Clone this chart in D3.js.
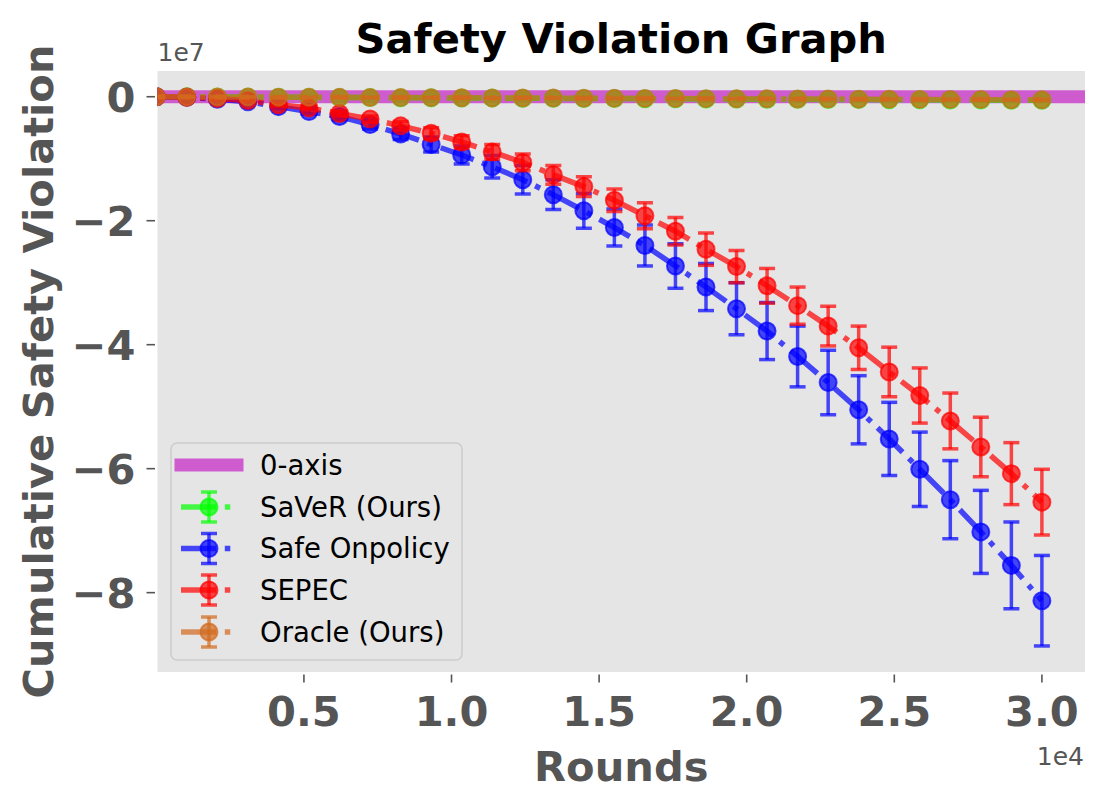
<!DOCTYPE html>
<html>
<head>
<meta charset="utf-8">
<script src="https://cdn.jsdelivr.net/npm/d3@7"></script>
<style>
  html, body { margin: 0; padding: 0; background: #ffffff; }
  svg { display: block; }
  text { font-family: "DejaVu Sans", sans-serif; }
</style>
</head>
<body>
<svg id="chart" width="1106" height="808"></svg>
<script>
// ---------------- data (y values in units of 1e7) ----------------
const rounds = [0, 1034, 2069, 3103, 4138, 5172, 6207, 7241, 8276, 9310,
  10345, 11379, 12414, 13448, 14483, 15517, 16552, 17586, 18621, 19655,
  20690, 21724, 22759, 23793, 24828, 25862, 26897, 27931, 28966, 30000];

const saverMean = [0, -0.002, -0.004, -0.006, -0.008, -0.010, -0.012, -0.014, -0.016, -0.018,
  -0.020, -0.022, -0.024, -0.026, -0.028, -0.030, -0.032, -0.034, -0.036, -0.038,
  -0.040, -0.042, -0.044, -0.046, -0.048, -0.050, -0.052, -0.054, -0.056, -0.058];
const saverErr = [0, 0.001, 0.001, 0.002, 0.002, 0.002, 0.003, 0.003, 0.003, 0.004,
  0.004, 0.004, 0.005, 0.005, 0.005, 0.006, 0.006, 0.006, 0.007, 0.007,
  0.007, 0.008, 0.008, 0.008, 0.009, 0.009, 0.009, 0.010, 0.010, 0.010];

const onpolicyMean = [0, -0.01, -0.04, -0.08, -0.16, -0.24, -0.32, -0.45, -0.60, -0.77,
  -0.94, -1.13, -1.34, -1.58, -1.84, -2.11, -2.40, -2.73, -3.07, -3.42,
  -3.78, -4.19, -4.61, -5.05, -5.52, -6.01, -6.50, -7.02, -7.56, -8.13];
const onpolicyErr = [0, 0.005, 0.01, 0.02, 0.03, 0.04, 0.05, 0.07, 0.09, 0.12,
  0.145, 0.18, 0.23, 0.24, 0.28, 0.30, 0.33, 0.36, 0.38, 0.42,
  0.46, 0.49, 0.52, 0.55, 0.59, 0.60, 0.63, 0.67, 0.70, 0.73];

const sepecMean = [0, -0.01, -0.03, -0.06, -0.13, -0.18, -0.27, -0.36, -0.47, -0.59,
  -0.73, -0.89, -1.06, -1.26, -1.45, -1.67, -1.92, -2.17, -2.46, -2.74,
  -3.05, -3.37, -3.70, -4.05, -4.44, -4.82, -5.23, -5.65, -6.08, -6.54];
const sepecErr = [0, 0.005, 0.01, 0.015, 0.02, 0.03, 0.04, 0.05, 0.07, 0.09,
  0.10, 0.12, 0.135, 0.15, 0.16, 0.18, 0.21, 0.22, 0.26, 0.26,
  0.28, 0.30, 0.32, 0.35, 0.40, 0.445, 0.45, 0.48, 0.50, 0.53];

const oracleMean = [0, -0.0017, -0.0034, -0.0051, -0.0068, -0.0085, -0.010, -0.012, -0.014, -0.015,
  -0.017, -0.019, -0.020, -0.022, -0.024, -0.026, -0.027, -0.029, -0.031, -0.032,
  -0.034, -0.036, -0.037, -0.039, -0.041, -0.043, -0.044, -0.046, -0.048, -0.050];
const oracleErr = [0, 0.001, 0.001, 0.001, 0.002, 0.002, 0.002, 0.003, 0.003, 0.003,
  0.003, 0.004, 0.004, 0.004, 0.005, 0.005, 0.005, 0.005, 0.006, 0.006,
  0.006, 0.007, 0.007, 0.007, 0.007, 0.008, 0.008, 0.008, 0.009, 0.009];

const seriesNames = ["SaVeR (Ours)", "Safe Onpolicy", "SEPEC", "Oracle (Ours)"];
const seriesColors = ["#00ff00", "#0000ff", "#ff0000", "#d2691e"];
const seriesMeans = [saverMean, onpolicyMean, sepecMean, oracleMean];
const seriesErrs = [saverErr, onpolicyErr, sepecErr, oracleErr];

const xTicks = [5000, 10000, 15000, 20000, 25000, 30000];
const xTickLabels = ["0.5", "1.0", "1.5", "2.0", "2.5", "3.0"];
const yTicks = [0, -2, -4, -6, -8];
const yTickLabels = ["0", "\u22122", "\u22124", "\u22126", "\u22128"];

const zeroLineLabel = "0-axis";
const zeroLineColor = "#bf00bf";

// ---------------- layout ----------------
const svg = d3.select("#chart");
const L = 157.5, R = 1085, T = 71, B = 672;
const x = d3.scaleLinear().domain([40, 31460]).range([L, R]);
const y = d3.scaleLinear().domain([-9.28, 0.415]).range([B, T]);

const ALPHA = 0.7;
const LW = 5.5;
const DASH = "35,8.8,5.5,8.8";
const MR = 8.5;
const BIG = 41.6;
const LEG = 27.5;

// background
svg.append("rect").attr("x", L).attr("y", T).attr("width", R - L).attr("height", B - T).attr("fill", "#e5e5e5");

svg.append("defs").append("clipPath").attr("id", "clip")
  .append("rect").attr("x", L).attr("y", T).attr("width", R - L).attr("height", B - T);

const plot = svg.append("g").attr("clip-path", "url(#clip)");

// 0-axis line
plot.append("line")
  .attr("x1", L - 10).attr("x2", R + 10)
  .attr("y1", y(0)).attr("y2", y(0))
  .attr("stroke", zeroLineColor).attr("stroke-opacity", 0.6).attr("stroke-width", 13);

// series
seriesNames.forEach((name, si) => {
  const col = seriesColors[si];
  const mean = seriesMeans[si];
  const err = seriesErrs[si];
  const g = plot.append("g");
  const pts = rounds.map((r, i) => ({ r, m: mean[i], e: err[i] }));

  // error bars
  g.selectAll("line.bar").data(pts).enter().append("line")
    .attr("x1", d => x(d.r)).attr("x2", d => x(d.r))
    .attr("y1", d => y(d.m - d.e)).attr("y2", d => y(d.m + d.e))
    .attr("stroke", col).attr("stroke-opacity", ALPHA).attr("stroke-width", 3.5);
  ["lo", "hi"].forEach(k => {
    g.selectAll("line.cap" + k).data(pts).enter().append("line")
      .attr("x1", d => x(d.r) - 8).attr("x2", d => x(d.r) + 8)
      .attr("y1", d => y(k === "lo" ? d.m - d.e : d.m + d.e))
      .attr("y2", d => y(k === "lo" ? d.m - d.e : d.m + d.e))
      .attr("stroke", col).attr("stroke-opacity", ALPHA).attr("stroke-width", 3.5);
  });

  // line
  g.append("path").datum(pts)
    .attr("d", d3.line().x(d => x(d.r)).y(d => y(d.m)))
    .attr("fill", "none").attr("stroke", col).attr("stroke-opacity", ALPHA)
    .attr("stroke-width", LW).attr("stroke-dasharray", DASH);

  // markers
  g.selectAll("circle").data(pts).enter().append("circle")
    .attr("cx", d => x(d.r)).attr("cy", d => y(d.m)).attr("r", MR)
    .attr("fill", col).attr("fill-opacity", ALPHA)
    .attr("stroke", col).attr("stroke-opacity", ALPHA).attr("stroke-width", 2);
});

// ---------------- axes ----------------
const tickColor = "#555555";
const axG = svg.append("g");
xTicks.forEach((t, i) => {
  axG.append("line").attr("x1", x(t)).attr("x2", x(t)).attr("y1", B + 2.5).attr("y2", B + 10.5)
    .attr("stroke", tickColor).attr("stroke-width", 1.6);
  axG.append("text").attr("x", x(t)).attr("y", 725.5).attr("text-anchor", "middle")
    .attr("font-size", BIG).attr("font-weight", "bold").attr("fill", tickColor).text(xTickLabels[i]);
});
yTicks.forEach((t, i) => {
  axG.append("line").attr("x1", L - 2.5).attr("x2", L - 11).attr("y1", y(t)).attr("y2", y(t))
    .attr("stroke", tickColor).attr("stroke-width", 1.6);
  axG.append("text").attr("x", 135.5).attr("y", y(t)).attr("dy", "0.365em").attr("text-anchor", "end")
    .attr("font-size", BIG).attr("font-weight", "bold").attr("fill", tickColor).text(yTickLabels[i]);
});

// offset texts
svg.append("text").attr("x", L).attr("y", 61).attr("font-size", 25).attr("fill", tickColor).text("1e7");
svg.append("text").attr("x", 1084).attr("y", 765).attr("text-anchor", "end").attr("font-size", 25).attr("fill", tickColor).text("1e4");

// axis labels
svg.append("text").attr("x", (L + R) / 2).attr("y", 780.5).attr("text-anchor", "middle")
  .attr("font-size", BIG).attr("font-weight", "bold").attr("fill", tickColor).text("Rounds");
svg.append("text").attr("transform", `translate(53,${(T + B) / 2}) rotate(-90)`).attr("text-anchor", "middle")
  .attr("font-size", BIG).attr("font-weight", "bold").attr("fill", tickColor).text("Cumulative Safety Violation");

// title
svg.append("text").attr("x", (L + R) / 2).attr("y", 53).attr("text-anchor", "middle")
  .attr("font-size", BIG).attr("font-weight", "bold").attr("fill", "#000000").text("Safety Violation Graph");

// ---------------- legend ----------------
const lg = svg.append("g");
lg.append("rect").attr("x", 171).attr("y", 443).attr("width", 291).attr("height", 217).attr("rx", 6)
  .attr("fill", "#e5e5e5").attr("fill-opacity", 0.8).attr("stroke", "#cccccc").attr("stroke-width", 1.5);

const rowY = [465, 507, 548.5, 590, 632];
const hx0 = 181, hx1 = 237, hxc = 209;
lg.append("line").attr("x1", hx0).attr("x2", hx1).attr("y1", rowY[0]).attr("y2", rowY[0])
  .attr("stroke", zeroLineColor).attr("stroke-opacity", 0.6).attr("stroke-width", 13).attr("stroke-linecap", "square");
lg.append("text").attr("x", 260).attr("y", rowY[0]).attr("dy", "0.36em").attr("font-size", LEG).attr("fill", "#000").text(zeroLineLabel);

seriesNames.forEach((name, si) => {
  const cy = rowY[si + 1];
  const col = seriesColors[si];
  lg.append("line").attr("x1", hxc).attr("x2", hxc).attr("y1", cy - 15).attr("y2", cy + 15)
    .attr("stroke", col).attr("stroke-opacity", ALPHA).attr("stroke-width", 3.5);
  [cy - 15, cy + 15].forEach(yy => {
    lg.append("line").attr("x1", hxc - 8).attr("x2", hxc + 8).attr("y1", yy).attr("y2", yy)
      .attr("stroke", col).attr("stroke-opacity", ALPHA).attr("stroke-width", 3.5);
  });
  lg.append("line").attr("x1", hx0).attr("x2", hx1).attr("y1", cy).attr("y2", cy)
    .attr("stroke", col).attr("stroke-opacity", ALPHA).attr("stroke-width", LW).attr("stroke-dasharray", DASH);
  lg.append("circle").attr("cx", hxc).attr("cy", cy).attr("r", MR)
    .attr("fill", col).attr("fill-opacity", ALPHA).attr("stroke", col).attr("stroke-opacity", ALPHA).attr("stroke-width", 2);
  lg.append("text").attr("x", 260).attr("y", cy).attr("dy", "0.36em").attr("font-size", LEG).attr("fill", "#000").text(name);
});
</script>
</body>
</html>
